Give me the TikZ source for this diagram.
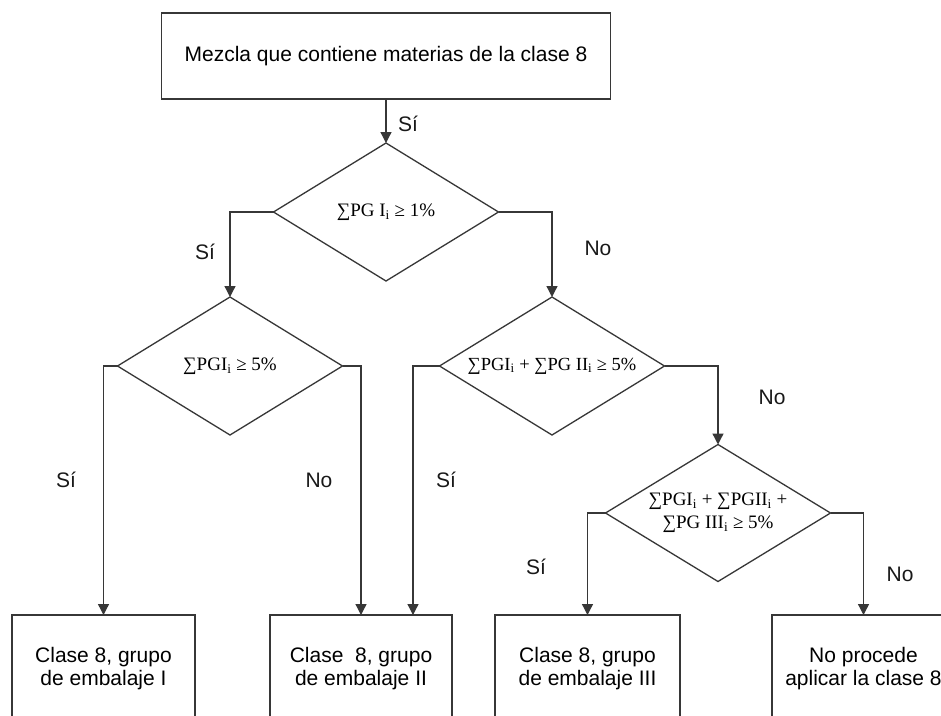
\documentclass[tikz,border=0pt]{standalone}
\usepackage{fontspec}
\setmainfont{Liberation Sans}
\newfontfamily\dserif{Liberation Serif}
\usetikzlibrary{arrows.meta,shapes.geometric}
\definecolor{linec}{RGB}{55,55,55}
\tikzset{
  box/.style={draw=linec, line width=1.3pt, rectangle, outer sep=0pt, align=center,
    font=\fontsize{21}{23}\selectfont, text=black},
  dec/.style={draw=linec, line width=1.3pt, diamond, aspect=1.6, inner sep=1pt, outer sep=0pt,
    minimum width=225pt, minimum height=138pt, align=center,
    font=\dserif\fontsize{19}{23}\selectfont, text=black},
  conn/.style={draw=linec, line width=1.3pt, -{Triangle[length=11pt,width=11pt]}},
  lbl/.style={font=\fontsize{21}{23}\selectfont, text=black!90, inner sep=0pt}
}
\begin{document}
\begin{tikzpicture}[x=1pt,y=-1pt]
\path[use as bounding box, clip] (0,0) rectangle (941,715);
\fill[white] (0,0) rectangle (941,715);
% boxes
\node[box, minimum width=449pt, minimum height=86pt] (top) at (386,56) {Mezcla que contiene materias de la clase 8};
\node[box, minimum width=183pt, minimum height=108pt] (b1) at (103.5,669) {Clase 8, grupo\\de embalaje I};
\node[box, minimum width=182pt, minimum height=108pt] (b2) at (361,669) {Clase\ \ 8, grupo\\de embalaje II};
\node[box, minimum width=185pt, minimum height=108pt] (b3) at (587.5,669) {Clase 8, grupo\\de embalaje III};
\node[box, minimum width=183pt, minimum height=108pt] (b4) at (863.5,669) {No procede\\aplicar la clase 8};
% decisions
\node[dec] (d1) at (386,212) {∑PG I\textsubscript{i} ≥ 1\%};
\node[dec] (d2) at (230,366) {∑PGI\textsubscript{i} ≥ 5\%};
\node[dec, font=\dserif\fontsize{18.5}{22}\selectfont] (d3) at (552,366) {∑PGI\textsubscript{i} + ∑PG II\textsubscript{i} ≥ 5\%};
\node[dec, minimum height=137pt] (d4) at (718,513) {∑PGI\textsubscript{i} + ∑PGII\textsubscript{i} +\\∑PG III\textsubscript{i} ≥ 5\%};
% connectors
\draw[conn] (top.south) -- (d1.north);
\draw[conn] (d1.west) -| (d2.north);
\draw[conn] (d1.east) -| (d3.north);
\draw[conn] (d2.west) -| (b1.north);
\draw[conn] (d2.east) -| (b2.north);
\draw[conn] (d3.west) -| ([xshift=-39pt]b2.north east);
\draw[conn] (d3.east) -| (d4.north);
\draw[conn] (d4.west) -| (b3.north);
\draw[conn] (d4.east) -| (b4.north);
% labels
\node[lbl] (l1) at (408,124) {Sí};
\node[lbl] (l2) at (205,252) {Sí};
\node[lbl] (l3) at (598,248) {No};
\node[lbl] (l4) at (66,480) {Sí};
\node[lbl] (l5) at (319,480) {No};
\node[lbl] (l6) at (446,480) {Sí};
\node[lbl] (l7) at (772,397) {No};
\node[lbl] (l8) at (536,567) {Sí};
\node[lbl] (l9) at (900,574) {No};
\end{tikzpicture}
\end{document}
